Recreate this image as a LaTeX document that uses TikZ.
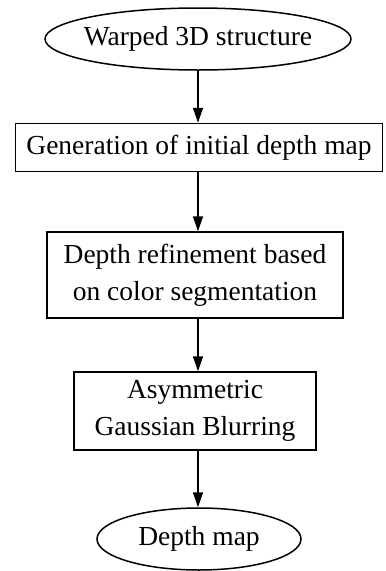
\documentclass[tikz,border=0pt]{standalone}
\usepackage{fontspec}
\setmainfont{Liberation Serif}
\usetikzlibrary{shapes.geometric,arrows.meta}

\tikzset{
    stepbox/.style={draw, line width=1.5pt, rectangle, align=center, inner sep=0pt},
    terminal/.style={draw, line width=1.5pt, ellipse, align=center, inner xsep=-8pt, inner ysep=-4pt},
    flow/.style={-{Triangle[width=10pt,length=15pt]}, line width=1.5pt}
}

\begin{document}
\begin{tikzpicture}[x=1pt, y=1pt, font=\fontsize{27.5}{37}\selectfont]
        \useasboundingbox (0,0) rectangle (386,-571);

        % input and output of the pipeline
        \node[terminal, minimum width=306pt, minimum height=62pt] (warped) at (198,-39) {Warped 3D structure};
        \node[terminal, minimum width=204pt, minimum height=62pt] (depthmap) at (199,-539) {Depth map};

        % processing steps
        \node[stepbox, minimum width=367pt, minimum height=48pt] (initial) at (199,-147.5) {Generation of initial depth map};
        \node[stepbox, minimum width=296pt, minimum height=86pt] (refine) at (195,-275) {Depth refinement based\\on color segmentation};
        \node[stepbox, minimum width=242pt, minimum height=78pt] (blur) at (195,-411) {Asymmetric\\Gaussian Blurring};

        % arrows between the steps
        \draw[flow] (warped.south -| 198,0) -- (initial.north -| 198,0);
        \draw[flow] (initial.south -| 198,0) -- (refine.north -| 198,0);
        \draw[flow] (refine.south -| 198,0) -- (blur.north -| 198,0);
        \draw[flow] (blur.south -| 198,0) -- (depthmap.north -| 198,0);

    \end{tikzpicture}
\end{document}
